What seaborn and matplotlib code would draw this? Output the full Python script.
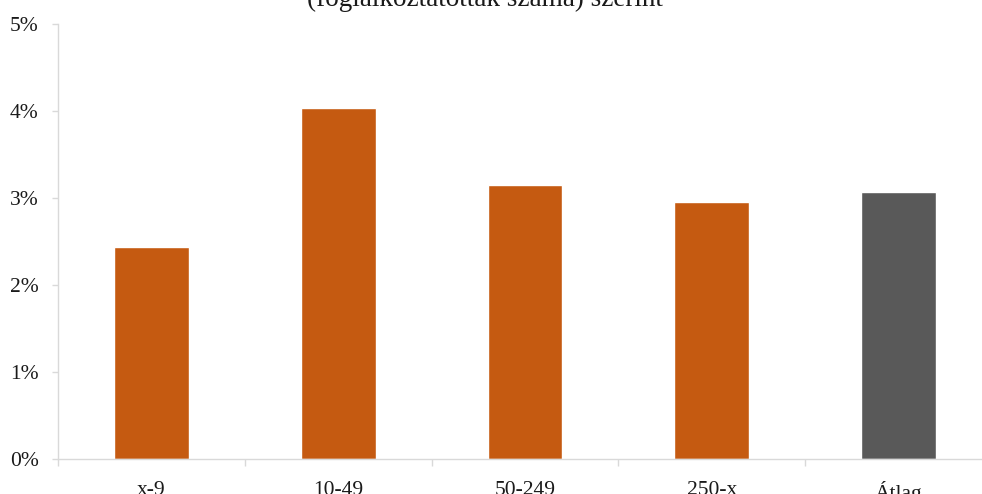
import matplotlib
matplotlib.use("Agg")
import matplotlib.pyplot as plt
import seaborn as sns
import pandas as pd
from matplotlib.ticker import FuncFormatter, FixedLocator, NullFormatter

categories = ["x-9", "10-49", "50-249", "250-x", "Átlag"]
values = [2.44, 4.03, 3.15, 2.95, 3.07]
bar_colors = ["#C55A11", "#C55A11", "#C55A11", "#C55A11", "#595959"]
title_line = "(foglalkoztatottak száma) szerint"

sns.set_theme(style="white")
plt.rcParams["font.family"] = ["Liberation Serif", "DejaVu Serif"]

df = pd.DataFrame({"cat": categories, "val": values})

fig = plt.figure(figsize=(9.82, 4.94), dpi=100)
W, H = 982, 494
ax = fig.add_axes([58 / W, (H - 459) / H, 934 / W, (459 - 24) / H])

sns.barplot(data=df, x="cat", y="val", hue="cat", palette=bar_colors,
            legend=False, width=0.40, ax=ax, saturation=1)

ax.set_xlim(-0.5, 4.5)
ax.set_ylim(0, 5)
ax.set_yticks([0, 1, 2, 3, 4, 5])
ax.yaxis.set_major_formatter(FuncFormatter(lambda v, p: f"{int(v)}%"))
ax.set_xlabel("")
ax.set_ylabel("")

for s in ["top", "right"]:
    ax.spines[s].set_visible(False)
for s in ["left", "bottom"]:
    ax.spines[s].set_color("#D9D9D9")
    ax.spines[s].set_linewidth(1.0)

ax.tick_params(axis="y", which="major", left=True, length=4, color="#D9D9D9",
               width=1.0, pad=10, labelsize=15.5, labelcolor="#1a1a1a")
# x labels centered on categories; tick marks at category boundaries
ax.tick_params(axis="x", which="major", bottom=False, pad=10, labelsize=15.5,
               labelcolor="#1a1a1a")
ax.xaxis.set_minor_locator(FixedLocator([-0.5, 0.5, 1.5, 2.5, 3.5, 4.5]))
ax.xaxis.set_minor_formatter(NullFormatter())
ax.tick_params(axis="x", which="minor", bottom=True, length=5, color="#D9D9D9",
               width=1.0)
ax.grid(False)

fig.text(485 / W, 1 - 6 / H, title_line, ha="center", va="baseline",
         fontsize=19.5, color="#1a1a1a")

fig.savefig("out.png", dpi=100)
